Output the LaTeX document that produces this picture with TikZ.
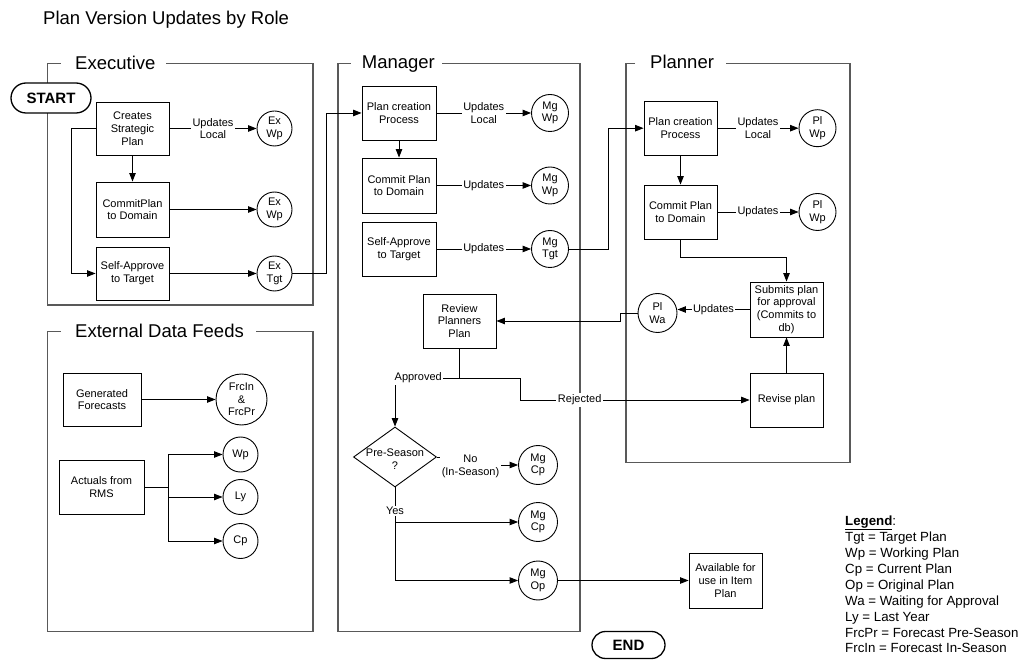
\documentclass[tikz,border=0pt]{standalone}
\usepackage{fontspec}
\setmainfont{Liberation Sans}
\usetikzlibrary{arrows.meta,shapes.geometric,shapes.misc}
\tikzset{
 box/.style={draw, line width=0.9pt, rectangle, align=center, inner sep=1pt, font=\fontsize{11}{12.8}\selectfont},
 circ/.style={draw, line width=0.9pt, circle, inner sep=0pt, align=center, font=\fontsize{11}{12.4}\selectfont},
 arr/.style={line width=0.9pt, -{Triangle[length=8.5pt,width=6.5pt]}},
 ln/.style={line width=0.9pt},
 lab/.style={fill=white, inner sep=1.5pt, align=center, font=\fontsize{11}{12.8}\selectfont},
 frame/.style={line width=1.2pt, draw=black!65},
 ftitle/.style={anchor=base west, inner sep=0pt, font=\fontsize{18.5}{22}\selectfont},
 term/.style={draw, fill=white, line width=1.3pt, rounded rectangle, font=\bfseries\fontsize{15}{18}\selectfont, inner sep=0pt},
 legendline/.style={anchor=base west, inner sep=0pt, font=\fontsize{13.3}{16}\selectfont},
}
\begin{document}
\begin{tikzpicture}[x=1pt,y=-1pt]
\useasboundingbox (0,0) rectangle (1029,660);

% title
\node[anchor=base west, inner sep=0pt, font=\fontsize{18.5}{22}\selectfont] (title) at (43,25) {Plan Version Updates by Role};

% frames
\node[ftitle] (exT) at (75,70) {Executive};
\draw[frame] (60.7,63.3) -- (47.5,63.3) -- (47.5,305) -- (313,305) -- (313,63.3) -- (166,63.3);
\node[ftitle] (mgTitle) at (361.7,69) {Manager};
\draw[frame] (350.7,63.3) -- (338,63.3) -- (338,631.7) -- (580,631.7) -- (580,63.3) -- (441.7,63.3);
\node[ftitle] (plTitle) at (650,69) {Planner};
\draw[frame] (635,63.3) -- (626,63.3) -- (626,462.3) -- (850,462.3) -- (850,63.3) -- (726,63.3);
\node[ftitle] (edTitle) at (75,338) {External Data Feeds};
\draw[frame] (60.7,331.3) -- (47.5,331.3) -- (47.5,631.7) -- (313,631.7) -- (313,331.3) -- (256,331.3);

% terminals
\node[term, minimum width=80pt, minimum height=30pt] (start) at (51,98) {START};
\node[term, minimum width=73pt, minimum height=27pt] (end) at (628.5,645) {END};

% Executive
\node[box, minimum width=73pt, minimum height=53pt] (exA) at (132.5,128.5) {Creates\\Strategic\\Plan};
\node[box, minimum width=73pt, minimum height=55pt] (exB) at (132.5,209.5) {CommitPlan\\to Domain};
\node[box, minimum width=73pt, minimum height=53pt] (exC) at (132.5,273.5) {Self-Approve\\to Target};
\node[circ, minimum size=35pt] (exW1) at (274.5,128.5) {Ex\\Wp};
\node[circ, minimum size=35pt] (exW2) at (274.5,209.5) {Ex\\Wp};
\node[circ, minimum size=35pt] (exTg) at (274.5,273.5) {Ex\\Tgt};

% Manager
\node[box, minimum width=74pt, minimum height=54pt] (mgA) at (399,113) {Plan creation\\Process};
\node[box, minimum width=74pt, minimum height=55pt] (mgB) at (399,185.5) {Commit Plan\\to Domain};
\node[box, minimum width=74pt, minimum height=54pt] (mgC) at (399,249) {Self-Approve\\to Target};
\node[circ, minimum size=37pt] (mgW1) at (550,113) {Mg\\Wp};
\node[circ, minimum size=37pt] (mgW2) at (550,185.5) {Mg\\Wp};
\node[circ, minimum size=37pt] (mgTg) at (550,249) {Mg\\Tgt};
\node[box, minimum width=73pt, minimum height=54pt] (rv) at (459.5,321) {Review\\Planners\\Plan};
\node[draw, diamond, line width=0.9pt, minimum width=83pt, minimum height=60pt, inner sep=0pt] (dia) at (395,457) {};
\node[align=center, inner sep=0pt, font=\fontsize{11}{12.8}\selectfont] (diat) at (395,459) {Pre-Season\\?};
\node[circ, minimum size=39pt] (mgC1) at (538,465) {Mg\\Cp};
\node[circ, minimum size=39pt] (mgC2) at (538,522) {Mg\\Cp};
\node[circ, minimum size=39pt] (mgO) at (538,580.5) {Mg\\Op};
\node[box, minimum width=73pt, minimum height=55pt] (avail) at (725.5,580.5) {Available for\\use in Item\\Plan};

% Planner
\node[box, minimum width=73pt, minimum height=54pt] (plA) at (680.5,128.2) {Plan creation\\Process};
\node[box, minimum width=73pt, minimum height=54pt] (plB) at (680.5,212) {Commit Plan\\to Domain};
\node[circ, minimum size=37pt] (plW1) at (817.5,128.2) {Pl\\Wp};
\node[circ, minimum size=37pt] (plW2) at (817.5,212) {Pl\\Wp};
\node[box, minimum width=73pt, minimum height=55pt] (plS) at (786.5,309.5) {Submits plan\\for approval\\(Commits to\\db)};
\node[box, minimum width=73pt, minimum height=54pt] (plR) at (786.5,400) {Revise plan};
\node[circ, minimum size=39pt] (plWa) at (657.5,313) {Pl\\Wa};

% External data feeds
\node[box, minimum width=78pt, minimum height=53pt] (gen) at (102,399.5) {Generated\\Forecasts};
\node[box, minimum width=85pt, minimum height=54pt] (act) at (101.5,487) {Actuals from\\RMS};
\node[circ, minimum size=51pt] (frc) at (241.5,399.5) {FrcIn\\\&\\FrcPr};
\node[circ, minimum size=35pt] (wp) at (240.5,454.5) {Wp};
\node[circ, minimum size=35pt] (ly) at (240.5,497) {Ly};
\node[circ, minimum size=35pt] (cp) at (240.5,541) {Cp};

% Executive connectors
\draw[arr] (exA.east) -- node[lab]{Updates\\Local} (exW1.west);
\draw[arr] (exA.south) -- (exB.north);
\draw[arr] (exB.east) -- (exW2.west);
\draw[arr] (exA.west) -- ++(-24,0) |- (exC.west);
\draw[arr] (exC.east) -- (exTg.west);
\draw[arr] (exTg.east) -- ++(33.7,0) |- (mgA.west);

% Manager connectors
\draw[arr] (mgA.east) -- node[lab]{Updates\\Local} (mgW1.west);
\draw[arr] (mgA.south) -- (mgB.north);
\draw[arr] (mgB.east) -- node[lab]{Updates} (mgW2.west);
\draw[arr] (mgC.east) -- node[lab]{Updates} (mgTg.west);
\draw[arr] (mgTg.east) -- ++(39.5,0) |- (plA.west);

% Planner connectors
\draw[arr] (plA.east) -- node[lab]{Updates\\Local} (plW1.west);
\draw[arr] (plA.south) -- (plB.north);
\draw[arr] (plB.east) -- node[lab]{Updates} (plW2.west);
\draw[arr] (plB.south) -- ++(0,18) -| (plS.north);
\draw[arr] (plS.west) -- node[lab]{Updates} (plS.west -| plWa.east);
\draw[arr] (plR.north) -- (plS.south);
\draw[arr] (plWa.west) -- (620,313) |- (rv.east);

% Review decisions
\draw[ln] (rv.south) -- (rv.south |- 0,378) coordinate (rvj);
\draw[arr] (rvj) -- node[lab,pos=0.64]{Approved} (rvj -| dia.north) -- (dia.north);
\draw[arr] (rvj) -- ++(60.5,0) |- node[lab,pos=0.63]{Rejected} (plR.west);
\draw[arr] (dia.east) -- (470,457) -- (470,465) -- (mgC1.west);
\node[lab] (nolab) at (470.5,466) {No\\(In-Season)};
\draw[ln] (dia.south) -- node[lab,pos=0.68]{Yes} (dia.south |- mgC2.west) coordinate (yj);
\draw[arr] (yj) -- (mgC2.west);
\draw[arr] (yj) |- (mgO.west);
\draw[arr] (mgO.east) -- (avail.west);

% External connectors
\draw[arr] (gen.east) -- (frc.west);
\draw[ln] (act.east) -- ++(24.3,0) coordinate (aj);
\draw[arr] (aj) |- (wp.west);
\draw[arr] (aj) |- (ly.west);
\draw[arr] (aj) |- (cp.west);

% Legend
\node[legendline] (leg0) at (845,525) {\underline{\textbf{Legend}}:};
\node[legendline] (leg1) at (845,541) {Tgt = Target Plan};
\node[legendline] (leg2) at (845,557) {Wp = Working Plan};
\node[legendline] (leg3) at (845,573) {Cp = Current Plan};
\node[legendline] (leg4) at (845,589) {Op = Original Plan};
\node[legendline] (leg5) at (845,605) {Wa = Waiting for Approval};
\node[legendline] (leg6) at (845,621) {Ly = Last Year};
\node[legendline] (leg7) at (845,637) {FrcPr = Forecast Pre-Season};
\node[legendline] (leg8) at (845,652.5) {FrcIn = Forecast In-Season};
\end{tikzpicture}
\end{document}
